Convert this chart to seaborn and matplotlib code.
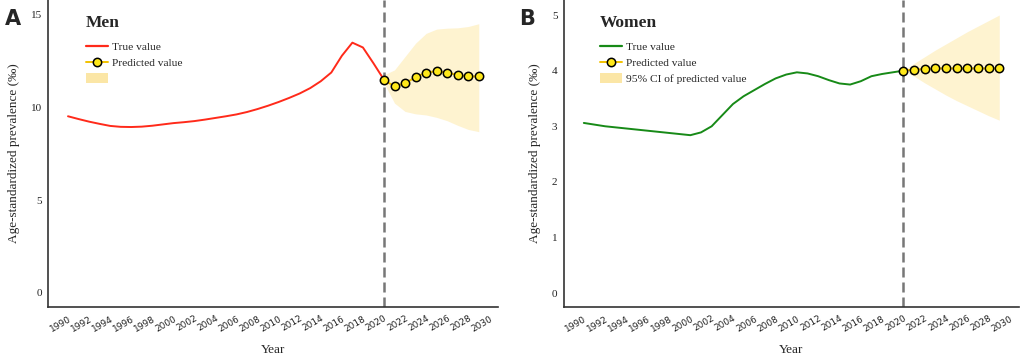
import numpy as np
import pandas as pd
import matplotlib
matplotlib.use('Agg')
import matplotlib.pyplot as plt
import seaborn as sns
from matplotlib.lines import Line2D
from matplotlib.patches import Patch

# observed years and values
true_years = list(range(1990, 2021))
men_true = [9.53, 9.38, 9.24, 9.12, 9.01, 8.96, 8.95, 8.97, 9.02, 9.09, 9.16, 9.21, 9.27, 9.35,
            9.44, 9.53, 9.63, 9.76, 9.92, 10.1, 10.3, 10.52, 10.76, 11.05, 11.42, 11.89, 12.79,
            13.5, 13.24, 12.39, 11.5]
women_true = [3.06, 3.03, 3.0, 2.98, 2.96, 2.94, 2.92, 2.9, 2.88, 2.86, 2.84, 2.89, 3.0, 3.2,
              3.4, 3.54, 3.65, 3.76, 3.86, 3.93, 3.97, 3.95, 3.9, 3.83, 3.77, 3.75, 3.81, 3.9,
              3.94, 3.97, 4.0]

# predictions with 95% CI
pred_years = list(range(2020, 2030))
men_pred = [11.48, 11.15, 11.3, 11.64, 11.89, 11.96, 11.89, 11.75, 11.68, 11.68]
men_upper = [11.76, 12.03, 12.75, 13.47, 14.0, 14.23, 14.28, 14.3, 14.37, 14.52]
men_lower = [11.32, 10.24, 9.79, 9.66, 9.6, 9.47, 9.29, 9.04, 8.82, 8.7]
women_pred = [4.0, 4.02, 4.03, 4.04, 4.04, 4.04, 4.04, 4.04, 4.04, 4.04]
women_upper = [4.0, 4.13, 4.25, 4.37, 4.48, 4.59, 4.7, 4.8, 4.9, 5.0]
women_lower = [4.0, 3.9, 3.78, 3.67, 3.56, 3.46, 3.37, 3.28, 3.19, 3.11]

x_ticks = list(range(1990, 2031, 2))

sns.set_style("white")
serif = ['Liberation Serif', 'DejaVu Serif']
plt.rcParams['font.family'] = serif

fig = plt.figure(figsize=(10.21, 3.55), dpi=100)
ax1 = fig.add_axes([0.047, 0.135, 0.441, 0.865])
ax2 = fig.add_axes([0.552, 0.135, 0.446, 0.865])

ci_color = '#fef3d0'
pred_line = '#f2c200'
pred_face = '#ffe81a'


def draw_panel(ax, title, true_vals, pred_vals, lo, hi, color, ylim, yticks, ci_label, lx):
    ax.fill_between(pred_years, lo, hi, color=ci_color, lw=0, zorder=1)
    df_true = pd.DataFrame({'Year': true_years, 'value': true_vals})
    df_pred = pd.DataFrame({'Year': pred_years, 'value': pred_vals})
    sns.lineplot(data=df_true, x='Year', y='value', color=color, lw=1.4, ax=ax, zorder=3)
    sns.lineplot(data=df_pred, x='Year', y='value', color=pred_line, lw=1.4, marker='o',
                 markersize=6, markerfacecolor=pred_face, markeredgecolor='black',
                 markeredgewidth=1.1, ax=ax, zorder=4)
    ax.axvline(2020, color='#777777', lw=1.8, linestyle=(0, (4, 2)), zorder=2)

    ax.set_xlim(1988.1, 2030.85)
    ax.set_ylim(*ylim)
    ax.set_xticks(x_ticks)
    ax.set_xticklabels([str(t) for t in x_ticks], rotation=30, ha='right',
                       rotation_mode='anchor', fontsize=6.5, family='DejaVu Sans', color='#222222')
    ax.set_yticks(yticks)
    ax.set_yticklabels([str(t) for t in yticks], fontsize=8, color='#222222')
    ax.tick_params(axis='both', length=3, width=0.8, color='#333333', direction='out')
    ax.tick_params(axis='x', pad=2)
    ax.tick_params(axis='y', pad=1.5)
    ax.set_xlabel('Year', fontsize=9.5, labelpad=8)
    ax.set_ylabel('Age-standardized prevalence (‰)', fontsize=9.5, labelpad=8)
    for s in ['top', 'right']:
        ax.spines[s].set_visible(False)
    for s in ['left', 'bottom']:
        ax.spines[s].set_color('#333333')
        ax.spines[s].set_linewidth(1.2)

    ax.text(lx, 0.925, title, transform=ax.transAxes, fontsize=12.5, fontweight='bold',
            va='center', ha='left')
    handles = [
        Line2D([], [], color=color, lw=1.6),
        Line2D([], [], color=pred_line, lw=1.4, marker='o', markersize=6,
               markerfacecolor=pred_face, markeredgecolor='black', markeredgewidth=1.1),
        Patch(facecolor='#fbe6a6', edgecolor='none'),
    ]
    ax.legend(handles, ['True value', 'Predicted value', ci_label],
              loc='upper left', bbox_to_anchor=(lx, 0.864), frameon=False,
              borderpad=0, borderaxespad=0,
              fontsize=8.2, handlelength=1.95, handleheight=0.9, labelspacing=0.45,
              handletextpad=0.35)


draw_panel(ax1, 'Men', men_true, men_pred, men_lower, men_upper, '#ff2a1a',
           (-0.76, 15.8), [0, 5, 10, 15], '', 0.084)
draw_panel(ax2, 'Women', women_true, women_pred, women_lower, women_upper, '#178a17',
           (-0.25, 5.27), [0, 1, 2, 3, 4, 5], '95% CI of predicted value', 0.08)

fig.text(0.005, 0.975, 'A', fontsize=15, fontweight='bold', family='DejaVu Sans', va='top')
fig.text(0.508, 0.975, 'B', fontsize=15, fontweight='bold', family='DejaVu Sans', va='top')

fig.savefig('out.png', dpi=100)
